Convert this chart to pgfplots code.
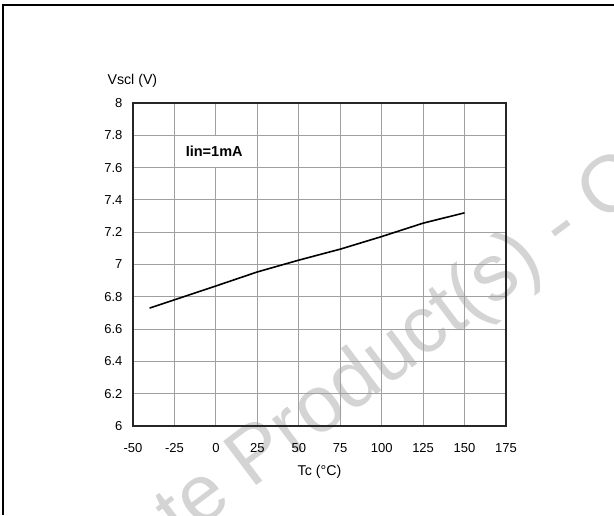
\documentclass[border=0pt]{standalone}
\usepackage{pgfplots}
\pgfplotsset{compat=1.18}
\usepackage{fontspec}
\setmainfont{Liberation Sans}
\definecolor{gridgray}{HTML}{A0A0A0}
\definecolor{wmgray}{HTML}{D4D4D4}

\begin{document}
\begin{tikzpicture}[x=1pt,y=1pt]
\useasboundingbox (0,0) rectangle (614,515);

% watermark
\begin{scope}
\clip (0,0) rectangle (614,515);
\node[rotate=37, inner sep=0pt, text=wmgray, font=\fontsize{80}{92}\selectfont]
  at (562,286) {Obsolete Product(s) - Obsolete Product(s)};
\end{scope}

% page frame (left and top only)
\draw[line width=2pt] (3,0) -- (3,509.5) -- (614,509.5);

\begin{axis}[
at={(133pt,89pt)},
anchor=south west,
width=373pt,
height=323pt,
scale only axis,
xmin=-50, xmax=175,
ymin=6, ymax=8,
xtick={-50,-25,0,25,50,75,100,125,150,175},
xticklabels={-50,-25,0,25,50,75,100,125,150,175},
ytick={6,6.2,6.4,6.6,6.8,7,7.2,7.4,7.6,7.8,8},
yticklabels={6,6.2,6.4,6.6,6.8,7,7.2,7.4,7.6,7.8,8},
major tick length=0pt,
grid=major,
major grid style={gridgray, line width=1pt},
axis line style={black!85, line width=1.6pt},
tick label style={font=\fontsize{13}{15}\selectfont},
xticklabel style={anchor=center, yshift=-22pt},
yticklabel style={anchor=east, xshift=-7pt},
xlabel={Tc (°C)},
ylabel={Vscl (V)},
label style={font=\fontsize{14.2}{16}\selectfont},
xlabel style={at={(axis description cs:0.5,0)}, anchor=center, yshift=-45.7pt},
ylabel style={rotate=-90, at={(axis description cs:0,1)}, anchor=west, xshift=-29pt, yshift=22.3pt},
]
\fill[white] (axis cs:-24.4,7.606) rectangle (axis cs:23.3,7.794);
\node[font=\bfseries\fontsize{14.5}{16}\selectfont] at (axis cs:-1,7.70) {Iin=1mA};

\addplot[black, line width=1.6pt] coordinates {
(-40,6.73) (0,6.867) (25,6.954) (50,7.027) (75,7.095) (100,7.173) (125,7.256) (150,7.32)
};
\end{axis}
\end{tikzpicture}
\end{document}
